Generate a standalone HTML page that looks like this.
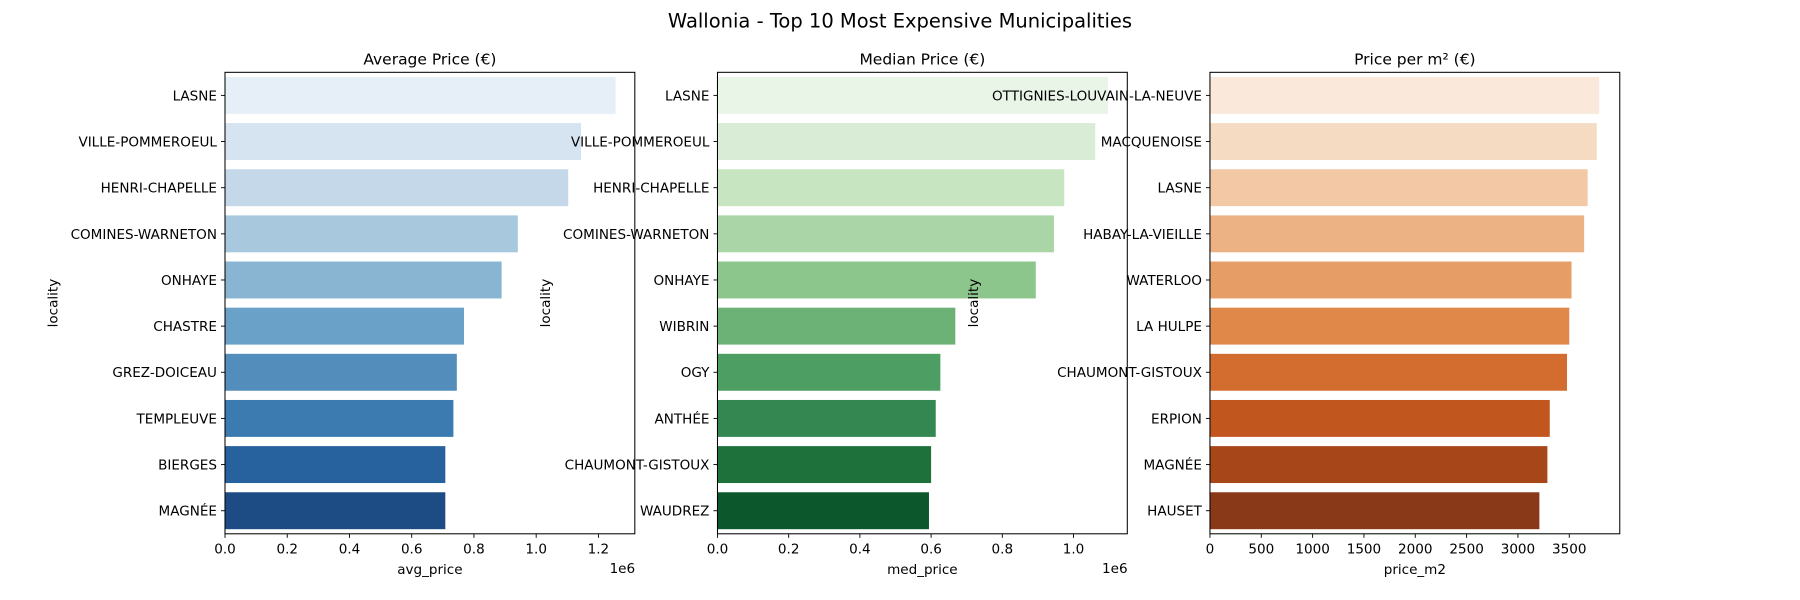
<!DOCTYPE html>
<html><head><meta charset="utf-8"><style>
html,body{margin:0;padding:0;background:#fff;}
svg{display:block;font-family:"DejaVu Sans","Liberation Sans",sans-serif;}
</style></head><body>
<svg id="fig" width="1800" height="600" viewBox="0 0 1568 522.67" preserveAspectRatio="none" xmlns="http://www.w3.org/2000/svg">
<rect width="1568" height="522.67" fill="#fff"/>
<text x="784" y="24" font-size="17" text-anchor="middle">Wallonia - Top 10 Most Expensive Municipalities</text>
</svg>
<script>
const avgCats=["LASNE","VILLE-POMMEROEUL","HENRI-CHAPELLE","COMINES-WARNETON","ONHAYE","CHASTRE","GREZ-DOICEAU","TEMPLEUVE","BIERGES","MAGNÉE"];
const avgVals=[1255000,1144000,1103000,941000,889000,768000,745000,734000,708000,708000];
const medCats=["LASNE","VILLE-POMMEROEUL","HENRI-CHAPELLE","COMINES-WARNETON","ONHAYE","WIBRIN","OGY","ANTHÉE","CHAUMONT-GISTOUX","WAUDREZ"];
const medVals=[1097000,1061000,974000,945000,894000,668000,626000,613000,600000,594000];
const m2Cats=["OTTIGNIES-LOUVAIN-LA-NEUVE","MACQUENOISE","LASNE","HABAY-LA-VIEILLE","WATERLOO","LA HULPE","CHAUMONT-GISTOUX","ERPION","MAGNÉE","HAUSET"];
const m2Vals=[3791,3768,3679,3645,3522,3500,3478,3310,3287,3209];
const avgTicks=[0,200000,400000,600000,800000,1000000,1200000];
const avgTickLabels=["0.0","0.2","0.4","0.6","0.8","1.0","1.2"];
const medTicks=[0,200000,400000,600000,800000,1000000];
const medTickLabels=["0.0","0.2","0.4","0.6","0.8","1.0"];
const m2Ticks=[0,500,1000,1500,2000,2500,3000,3500];
const m2TickLabels=["0","500","1000","1500","2000","2500","3000","3500"];
const blues=["#e6eff8","#d6e4f1","#c4d8ea","#a8c8dd","#89b5d2","#6aa1c8","#528dbb","#3b7bb0","#28629e","#1d4b84"];
const greens=["#e9f5e7","#d9ecd5","#c6e5c0","#aad6a7","#8dc68d","#6cb276","#4c9e62","#348751","#1e713b","#0d572d"];
const oranges=["#fae9da","#f6dbc3","#f2c9a4","#ecb283","#e79d66","#e08849","#d36d2f","#c2561f","#a64619","#893917"];
const NS="http://www.w3.org/2000/svg";
const svg=document.getElementById('fig');
function mk(t,a,txt){const e=document.createElementNS(NS,t);for(const k in a)e.setAttribute(k,a[k]);if(txt!==undefined)e.textContent=txt;svg.appendChild(e);return e;}
function panel(key,x0,x1,xmax,cats,vals,cols,ticks,tlabels,title,xlabel,offset){
  const y0=63,y1=465,fs=11.8;
  const xs=v=>x0+(v/xmax)*(x1-x0);
  const band=(y1-y0)/cats.length;
  const ys=i=>y0+band*(i+0.5);
  const t=mk('text',{x:(x0+x1)/2,y:56,'font-size':13.5,'text-anchor':'middle'},title);
  
  
  vals.forEach((v,i)=>{
    const r=mk('rect',{x:x0,y:ys(i)-band*0.4,width:xs(v)-x0,height:band*0.8,fill:cols[i]});
    
    
  });
  cats.forEach((c,i)=>{
    mk('line',{x1:x0-3.5,x2:x0,y1:ys(i),y2:ys(i),stroke:'#000','stroke-width':0.8});
    const l=mk('text',{x:x0-7,y:ys(i)+4.3,'font-size':fs,'text-anchor':'end'},c);
    
    
  });
  ticks.forEach((tv,i)=>{
    const x=xs(tv);
    mk('line',{x1:x,x2:x,y1:y1,y2:y1+3.5,stroke:'#000','stroke-width':0.8});
    const l=mk('text',{x:x,y:y1+17,'font-size':fs,'text-anchor':'middle'},tlabels[i]);
    
    
  });
  const fr=mk('rect',{x:x0,y:y0,width:x1-x0,height:y1-y0,fill:'none',stroke:'#000','stroke-width':0.9});
  
  
  const xl=mk('text',{x:(x0+x1)/2,y:500,'font-size':fs,'text-anchor':'middle'},xlabel);
  
  
  const yx=x0-(key==='price-m2'?202:146);
  const yl=mk('text',{x:yx,y:264,'font-size':fs,'text-anchor':'middle',transform:'rotate(-90 '+yx+' 264)'},'locality');
  
  
  if(offset){
    const o=mk('text',{x:x1-22,y:499,'font-size':fs,'text-anchor':'start'},offset);
    
    
  }
}
panel('avg-price',196,553,1317000,avgCats,avgVals,blues,avgTicks,avgTickLabels,'Average Price (€)','avg_price','1e6');
panel('med-price',625,982,1151000,medCats,medVals,greens,medTicks,medTickLabels,'Median Price (€)','med_price','1e6');
panel('price-m2',1054,1411,3992,m2Cats,m2Vals,oranges,m2Ticks,m2TickLabels,'Price per m² (€)','price_m2','');
</script>
</body></html>
